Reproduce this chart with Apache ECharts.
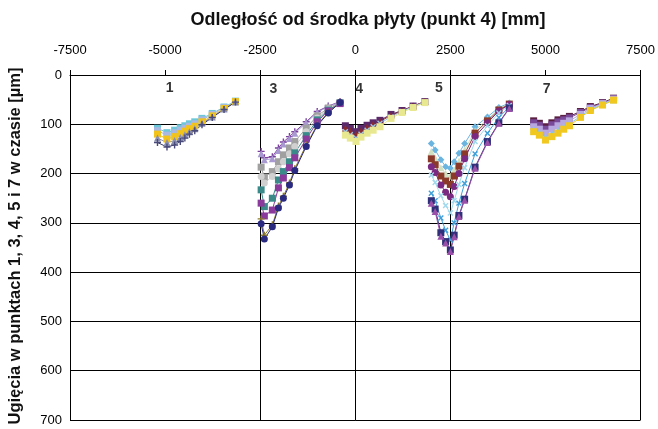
<!DOCTYPE html>
<html>
<head>
<meta charset="utf-8">
<script src="https://cdn.jsdelivr.net/npm/echarts@6/dist/echarts.min.js"></script>
<style>
  html, body { margin: 0; padding: 0; background: #fff; }
  #chart { width: 658px; height: 429px; }
</style>
</head>
<body>
<div id="chart"></div>
<script>
// x positions (mm) for each measuring point group
const x1 = [-5200, -4950, -4750, -4600, -4480, -4360, -4220, -4030, -3760, -3450, -3150];
const x3 = [-2475, -2390, -2180, -2020, -1890, -1730, -1590, -1290, -1000, -710, -400];
const x4 = [-260, -130, 20, 150, 310, 470, 650, 940, 1230, 1520, 1830];
const x5 = [2000, 2100, 2250, 2375, 2500, 2600, 2725, 2875, 3150, 3475, 3775, 4050];
const x7 = [4690, 4840, 5000, 5170, 5330, 5480, 5630, 5920, 6180, 6500, 6790];

// deflections [um], group 1
const p1a = [108, 117, 112, 107, 103, 99, 95, 88, 78, 65, 53];
const p1b = [113, 122, 117, 112, 108, 104, 99, 91, 80, 66, 54];
const p1c = [120, 130, 125, 119, 114, 109, 104, 95, 83, 68, 54];
const p1d = [128, 137, 133, 127, 121, 115, 109, 98, 85, 69, 55];
const p1e = [137, 146, 142, 135, 128, 120, 113, 101, 86, 70, 55];

// group 3
const p3a = [155, 168, 166, 148, 136, 125, 115, 95, 74, 63, 54];
const p3b = [160, 172, 170, 153, 140, 129, 118, 97, 76, 64, 55];
const p3c = [187, 207, 196, 176, 162, 148, 135, 108, 83, 67, 56];
const p3d = [206, 219, 206, 190, 176, 160, 145, 115, 87, 69, 57];
const p3e = [233, 267, 250, 213, 196, 176, 158, 123, 91, 71, 57];
const p3f = [260, 286, 274, 229, 209, 188, 168, 130, 95, 73, 58];
const p3g = [292, 325, 304, 266, 246, 219, 190, 142, 101, 76, 56];
const p3h = [302, 333, 308, 270, 250, 223, 194, 145, 103, 77, 56];

// group 4
const p4a = [103, 108, 115, 108, 102, 97, 92, 80, 72, 63, 54];
const p4b = [108, 113, 120, 113, 106, 100, 94, 82, 73, 63, 54];
const p4c = [115, 121, 128, 120, 112, 105, 98, 85, 74, 64, 55];
const p4d = [122, 128, 135, 126, 118, 112, 105, 88, 76, 66, 56];

// group 5
const p5a = [139, 152, 172, 186, 189, 176, 159, 139, 105, 85, 66, 57];
const p5b = [155, 168, 188, 200, 205, 192, 175, 152, 113, 90, 69, 58];
const p5c = [170, 182, 205, 215, 222, 205, 185, 160, 118, 93, 71, 59];
const p5d = [186, 198, 223, 238, 247, 226, 200, 170, 125, 97, 73, 60];
const p5e = [203, 218, 245, 265, 280, 255, 222, 188, 135, 103, 77, 62];
const p5f = [240, 255, 290, 315, 335, 300, 260, 220, 160, 118, 86, 65];
const p5g = [255, 272, 320, 338, 355, 325, 285, 252, 187, 135, 97, 67];
const p5h = [260, 277, 327, 341, 358, 328, 287, 254, 189, 137, 98, 68];

// group 7
const p7a = [93, 98, 105, 97, 91, 88, 84, 74, 64, 56, 47];
const p7b = [97, 102, 110, 101, 95, 91, 87, 76, 66, 57, 48];
const p7c = [105, 110, 118, 110, 103, 98, 93, 80, 68, 58, 49];
const p7d = [110, 116, 126, 119, 112, 105, 99, 84, 70, 60, 50];
const p7e = [115, 122, 132, 125, 118, 110, 103, 86, 72, 61, 51];

// point group labels
const tagNames = ["1", "3", "4", "5", "7"];
const tagX = [-4880, -2150, 100, 2200, 5030];
const tagY = [26, 28, 28, 26, 28];

const CROSS = "path://M4,0H6V4H10V6H6V10H4V6H0V4H4Z";
const DASH = "path://M0,4H10V6H0Z";

function line(xs, ys, color, symbol, mark, rot) {
  return {
    type: "line",
    data: xs.map((x, i) => [x, ys[i]]),
    symbol: symbol,
    symbolSize: 7,
    symbolRotate: rot || 0,
    showAllSymbol: true,
    lineStyle: { color: color, width: 1 },
    itemStyle: { color: mark || color },
    animation: false
  };
}

const series = [
  line(x1, p1a, "#6cc7d8", "rect"),
  line(x1, p1b, "#a8b8e0", "rect"),
  line(x1, p1c, "#f2c31a", "rect"),
  line(x1, p1d, "#8a8fb0", "triangle"),
  line(x1, p1e, "#3a3a6a", CROSS, "#4a4a7a"),

  line(x3, p3a, "#7b3f9e", CROSS),
  line(x3, p3b, "#a89ad0", "triangle"),
  line(x3, p3c, "#a0a0a0", "rect"),
  line(x3, p3d, "#d0d0d0", "circle"),
  line(x3, p3e, "#3a8a8a", DASH),
  line(x3, p3f, "#8a3a9a", DASH),
  line(x3, p3g, "#8a7a2a", CROSS),
  line(x3, p3h, "#2a2a80", "circle"),

  line(x4, p4a, "#5a2a6a", "rect"),
  line(x4, p4b, "#8b2a2a", "triangle"),
  line(x4, p4c, "#9bc8e8", CROSS, "#9bc8e8", 45),
  line(x4, p4d, "#e8e890", "rect"),

  line(x5, p5a, "#6ab4e0", "diamond"),
  line(x5, p5b, "#d0e0c0", "triangle"),
  line(x5, p5c, "#8b3a2a", DASH),
  line(x5, p5d, "#7a2a80", "circle"),
  line(x5, p5e, "#a0d8ec", CROSS, "#a0d8ec", 45),
  line(x5, p5f, "#40a0d8", CROSS, "#40a0d8", 45),
  line(x5, p5g, "#30307a", "rect"),
  line(x5, p5h, "#9a50a8", "triangle"),

  line(x7, p7a, "#5a2040", "rect"),
  line(x7, p7b, "#7a4a9a", "rect"),
  line(x7, p7c, "#b8a8e0", "rect"),
  line(x7, p7d, "#80c8e8", "triangle"),
  line(x7, p7e, "#f0c820", "rect"),

  {
    type: "scatter",
    data: tagX.map((x, i) => [x, tagY[i]]),
    symbolSize: 0,
    silent: true,
    animation: false,
    label: {
      show: true,
      position: "inside",
      formatter: p => tagNames[p.dataIndex],
      color: "#000",
      fontWeight: "bold",
      fontSize: 14,
      fontFamily: "Liberation Sans"
    }
  }
];

const chart = echarts.init(document.getElementById("chart"));
chart.setOption({
  backgroundColor: "#fff",
  textStyle: { fontFamily: "Liberation Sans" },
  grid: { left: 70, right: 16, top: 75, bottom: 9 },
  xAxis: [
    {
      type: "value",
      position: "top",
      min: -7500,
      max: 7500,
      interval: 2500,
      axisLine: { show: true, lineStyle: { color: "#000", width: 1 } },
      axisTick: { show: true, inside: false, length: 5, lineStyle: { color: "#000" } },
      axisLabel: { color: "#000", fontSize: 13, margin: 18, formatter: v => String(v) },
      splitLine: { show: false }
    },
    {
      type: "value",
      position: "top",
      min: -7500,
      max: 7500,
      interval: 5000,
      axisLine: { show: false },
      axisTick: { show: false },
      axisLabel: { show: false },
      splitLine: { show: true, lineStyle: { color: "#000", width: 1 } }
    }
  ],
  yAxis: {
    type: "value",
    inverse: true,
    min: 0,
    max: 700,
    interval: 100,
    axisLine: { show: true, lineStyle: { color: "#000", width: 1 } },
    axisTick: { show: true, inside: false, length: 5, lineStyle: { color: "#000" } },
    axisLabel: { color: "#000", fontSize: 13, margin: 8, formatter: v => String(v) },
    splitLine: { show: true, lineStyle: { color: "#000", width: 1 } }
  },
  graphic: [
    {
      type: "text",
      x: 368,
      y: 20,
      style: {
        text: "Odległość od środka płyty (punkt 4) [mm]",
        fontSize: 18,
        fontWeight: "bold",
        fontFamily: "Liberation Sans",
        fill: "#111",
        textAlign: "center",
        textVerticalAlign: "middle"
      }
    },
    {
      type: "text",
      x: 15,
      y: 246,
      rotation: Math.PI / 2,
      style: {
        text: "Ugięcia w punktach 1, 3, 4, 5 i 7 w czasie [µm]",
        fontSize: 16.5,
        fontWeight: "bold",
        fontFamily: "Liberation Sans",
        fill: "#111",
        textAlign: "center",
        textVerticalAlign: "middle"
      }
    }
  ],
  series: series
});
</script>
</body>
</html>
